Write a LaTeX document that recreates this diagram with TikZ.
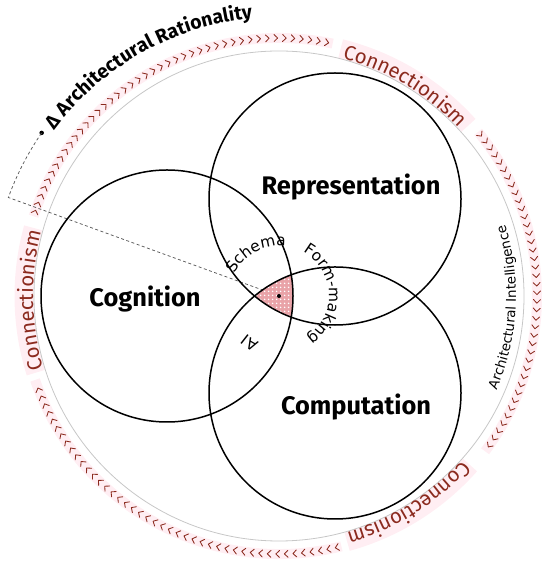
\documentclass[tikz,border=0pt]{standalone}
\usepackage{fontspec}
\setmainfont{Fira Sans}
\newfontfamily\dejavu{DejaVu Sans}
\usetikzlibrary{decorations.text,patterns.meta}
\definecolor{cred}{HTML}{8B2A1E}
\definecolor{cpink}{HTML}{FFEEF3}
\definecolor{ctri}{HTML}{E9A3A8}
\begin{document}
\begin{tikzpicture}[x=1bp,y=1bp,
  ring/.style={line width=1.5bp, draw=black},
  chev/.style={draw=cred, line width=0.85bp, line cap=round, line join=round},
  band/.style={draw=cpink, line width=10bp},
  lband/.style={draw=cpink, line width=19bp},
  mainlabel/.style={font=\bfseries\fontsize{25.5}{30}\selectfont, inner sep=0},
  dotnode/.style={circle, fill=black, inner sep=0, minimum size=#1}]
\useasboundingbox (0,0) rectangle (550,568);
\coordinate (O) at (279,272);
\begin{scope}[shift={(O)}]
  % outer pink bands
  \draw[band] (162:258) arc[start angle=162, end angle=78, radius=258];
  \draw[band] (39.5:258) arc[start angle=39.5, end angle=-37, radius=258];
  \draw[band] (-76:258) arc[start angle=-76, end angle=-161, radius=258];
  \draw[lband] (76:255) arc[start angle=76, end angle=42, radius=255];
  \draw[lband] (197.5:255) arc[start angle=197.5, end angle=164.5, radius=255];
  \draw[lband] (-41.5:255) arc[start angle=-41.5, end angle=-74.5, radius=255];
  % chevrons
  \foreach \a in {161,159.1,...,78.5} {\draw[chev, rotate=\a] (254.5,1.8) -- (258,-1.8) -- (261.5,1.8);}
  \foreach \a in {38.7,36.8,...,-36.6} {\draw[chev, rotate=\a] (254.5,1.8) -- (258,-1.8) -- (261.5,1.8);}
  \foreach \a in {-77,-78.9,...,-160.5} {\draw[chev, rotate=\a] (254.5,1.8) -- (258,-1.8) -- (261.5,1.8);}
  % gray circle
  \draw[black!22, line width=0.8bp] (0,0) circle[radius=245];
  % Connectionism labels
  \path[decorate, decoration={text along path, text align=center,
     text={|\fontsize{20.5}{24}\selectfont\color{cred}|Connectionism}}]
     (95:246) arc[start angle=95, end angle=23, radius=246];
  \path[decorate, decoration={text along path, text align=center,
     text={|\fontsize{20.5}{24}\selectfont\color{cred}|Connectionism}}]
     (217:246) arc[start angle=217, end angle=145, radius=246];
  \path[decorate, decoration={text along path, text align=center,
     text={|\fontsize{20.5}{24}\selectfont\color{cred}|Connectionism}}]
     (-22:246) arc[start angle=-22, end angle=-94, radius=246];
  % Architectural Intelligence
  \path[decorate, decoration={text along path, text align=center,
     text={|\dejavu\fontsize{13.5}{16}\selectfont|Architectural Intelligence}}]
     (-45:237) arc[start angle=-45, end angle=39, radius=237];
  % Architectural Rationality
  \path[decorate, decoration={text along path, text align=left,
     text={|\bfseries\fontsize{19.5}{23}\selectfont|Δ Architectural Rationality}}]
     (143.5:279) arc[start angle=143.5, end angle=80, radius=279];
  % dashed connector
  \coordinate (dk) at (160:288);
  \node[dotnode=4.5bp] (rd) at (145.5:288) {};
  \draw[black!65, line width=0.75bp, dash pattern=on 3bp off 2.5bp] (O) -- (dk)
     arc[start angle=160, end angle=145.5, radius=288];
  % circles
  \coordinate (cCog) at (180:112);
  \coordinate (cRep) at (60:112);
  \coordinate (cComp) at (-60:112);
  \begin{scope}
    \clip (cCog) circle[radius=126];
    \clip (cRep) circle[radius=126];
    \fill[ctri] (cComp) circle[radius=126];
    \fill[pattern={Dots[radius=0.9bp, distance=3.6bp]}, pattern color=white] (cComp) circle[radius=126];
  \end{scope}
  \draw[ring] (cCog) circle[radius=126];
  \draw[ring] (cRep) circle[radius=126];
  \draw[ring] (cComp) circle[radius=126];
  % inner labels
  \path[decorate, decoration={text along path, text align=center,
     text={|\dejavu\fontsize{15.5}{18}\selectfont|Schema}}]
     (180:50) arc[start angle=180, end angle=56, radius=50];
  \path[decorate, decoration={text along path, text align=center,
     text={|\dejavu\fontsize{15.5}{18}\selectfont|Form-making}}]
     (85:50) arc[start angle=85, end angle=-80, radius=50];
  \path[decorate, decoration={text along path, text align=center,
     text={|\dejavu\fontsize{15.5}{18}\selectfont|AI}}]
     (280:50) arc[start angle=280, end angle=196, radius=50];
\end{scope}
\node[dotnode=4bp] (cd) at (O) {};
\node[mainlabel] (rep) at (351,381) {Representation};
\node[mainlabel] (cog) at (145,269) {Cognition};
\node[mainlabel] (comp) at (356,161) {Computation};
\end{tikzpicture}
\end{document}
